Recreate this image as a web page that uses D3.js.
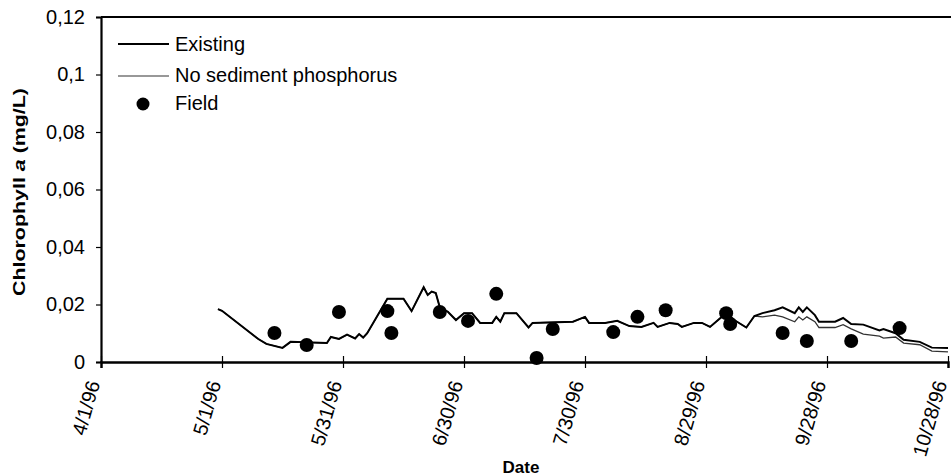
<!DOCTYPE html>
<html>
<head>
<meta charset="utf-8">
<script src="https://cdn.jsdelivr.net/npm/d3@7"></script>
<style>
  body { margin: 0; background: #fff; }
  svg { display: block; font-family: "Liberation Sans", Arial, sans-serif; }
</style>
</head>
<body>
<main></main>
<script>
// model output dates (shared by both runs)
const modelDates = [
  "1996-04-30", "1996-05-01", "1996-05-10", "1996-05-12", "1996-05-16", "1996-05-18",
  "1996-05-27", "1996-05-28", "1996-05-30", "1996-06-01", "1996-06-03", "1996-06-04",
  "1996-06-05", "1996-06-06", "1996-06-11", "1996-06-15", "1996-06-17", "1996-06-20",
  "1996-06-21", "1996-06-22", "1996-06-23", "1996-06-24", "1996-06-26", "1996-06-28",
  "1996-06-30", "1996-07-02", "1996-07-04", "1996-07-07", "1996-07-08", "1996-07-09",
  "1996-07-10", "1996-07-13", "1996-07-16", "1996-07-17", "1996-07-27", "1996-07-30",
  "1996-07-31", "1996-08-04", "1996-08-07", "1996-08-10", "1996-08-13", "1996-08-16",
  "1996-08-17", "1996-08-20", "1996-08-22", "1996-08-23", "1996-08-26", "1996-08-28",
  "1996-08-30", "1996-09-01", "1996-09-03", "1996-09-05", "1996-09-08", "1996-09-10",
  "1996-09-12", "1996-09-15", "1996-09-17", "1996-09-20", "1996-09-21", "1996-09-22",
  "1996-09-23", "1996-09-25", "1996-09-26", "1996-09-30", "1996-10-02", "1996-10-04",
  "1996-10-07", "1996-10-11", "1996-10-12", "1996-10-15", "1996-10-17", "1996-10-21",
  "1996-10-24", "1996-10-28"
];

const existing = [
  0.0184, 0.0178, 0.0080, 0.0063, 0.0049, 0.0070,
  0.0066, 0.0087, 0.0080, 0.0095, 0.0082, 0.0097,
  0.0085, 0.0100, 0.0220, 0.0220, 0.0177, 0.0260,
  0.0233, 0.0245, 0.0240, 0.0190, 0.0175, 0.0146,
  0.0170, 0.0170, 0.0136, 0.0136, 0.0157, 0.0140,
  0.0170, 0.0170, 0.0120, 0.0136, 0.0140, 0.0157,
  0.0136, 0.0136, 0.0143, 0.0125, 0.0122, 0.0136,
  0.0122, 0.0136, 0.0132, 0.0122, 0.0136, 0.0136,
  0.0122, 0.0146, 0.0170, 0.0146, 0.0120, 0.0160,
  0.0170, 0.0180, 0.0190, 0.0170, 0.0190, 0.0174,
  0.0190, 0.0163, 0.0140, 0.0140, 0.0153, 0.0132,
  0.0130, 0.0110, 0.0115, 0.0100, 0.0077, 0.0070,
  0.0050, 0.0049
];

const noSediment = [
  0.0184, 0.0178, 0.0080, 0.0063, 0.0049, 0.0070,
  0.0066, 0.0087, 0.0080, 0.0095, 0.0082, 0.0097,
  0.0085, 0.0100, 0.0220, 0.0220, 0.0177, 0.0260,
  0.0233, 0.0245, 0.0240, 0.0190, 0.0175, 0.0146,
  0.0170, 0.0170, 0.0136, 0.0136, 0.0157, 0.0140,
  0.0170, 0.0170, 0.0120, 0.0136, 0.0140, 0.0157,
  0.0136, 0.0136, 0.0143, 0.0125, 0.0122, 0.0136,
  0.0122, 0.0136, 0.0132, 0.0122, 0.0136, 0.0136,
  0.0122, 0.0146, 0.0170, 0.0146, 0.0120, 0.0160,
  0.0157, 0.0163, 0.0157, 0.0140, 0.0157, 0.0146,
  0.0157, 0.0140, 0.0120, 0.0120, 0.0130, 0.0115,
  0.0097, 0.0090, 0.0083, 0.0087, 0.0066, 0.0060,
  0.0038, 0.0035
];

// field samples
const fieldDates = [
  "1996-05-14", "1996-05-22", "1996-05-30", "1996-06-11", "1996-06-12", "1996-06-24",
  "1996-07-01", "1996-07-08", "1996-07-18", "1996-07-22", "1996-08-06", "1996-08-12",
  "1996-08-19", "1996-09-03", "1996-09-04", "1996-09-17", "1996-09-23", "1996-10-04",
  "1996-10-16"
];
const fieldValues = [
  0.0101, 0.0059, 0.0174, 0.0177, 0.0101, 0.0174,
  0.0143, 0.0237, 0.0014, 0.0115, 0.0104, 0.0157,
  0.0180, 0.0170, 0.0132, 0.0101, 0.0073, 0.0073,
  0.0118
];

const xTickDates = ["1996-04-01", "1996-05-01", "1996-05-31", "1996-06-30",
  "1996-07-30", "1996-08-29", "1996-09-28", "1996-10-28"];
const yTicks = [0, 0.02, 0.04, 0.06, 0.08, 0.1, 0.12];
const legendLabels = ["Existing", "No sediment phosphorus", "Field"];

const parse = d3.timeParse("%Y-%m-%d");
const width = 951, height = 476;
const plotLeft = 101, plotRight = 948, plotTop = 17, plotBottom = 362;

const x = d3.scaleTime()
  .domain([parse("1996-04-01"), parse("1996-10-28")])
  .range([plotLeft, plotRight]);
const y = d3.scaleLinear()
  .domain([0, 0.12])
  .range([plotBottom, plotTop]);

const svg = d3.select("main").append("svg")
  .attr("width", width)
  .attr("height", height);

// frame top line
svg.append("line")
  .attr("x1", plotLeft).attr("x2", width)
  .attr("y1", plotTop).attr("y2", plotTop)
  .attr("stroke", "#000").attr("stroke-width", 2);

// y axis
const fmtY = d => d === 0 ? "0" : String(d).replace(".", ",");
const yAxis = svg.append("g")
  .attr("transform", `translate(${plotLeft},0)`)
  .call(d3.axisLeft(y).tickValues(yTicks).tickSize(5).tickPadding(11).tickFormat(fmtY));
yAxis.select(".domain").attr("stroke-width", 2.2);
yAxis.selectAll(".tick line").attr("stroke-width", 1.2);
yAxis.selectAll("text")
  .attr("font-size", 20).attr("fill", "#000")
  .style("font-family", "Liberation Sans, Arial, sans-serif");

// x axis
const fmtX = d3.timeFormat("%-m/%-d/%y");
const xAxis = svg.append("g")
  .attr("transform", `translate(0,${plotBottom})`)
  .call(d3.axisBottom(x).tickValues(xTickDates.map(parse)).tickSize(6).tickFormat(fmtX));
xAxis.select(".domain").attr("stroke-width", 2.4);
xAxis.selectAll(".tick line").attr("y1", -6).attr("stroke-width", 1.2);
xAxis.selectAll("text")
  .attr("font-size", 20).attr("fill", "#000")
  .attr("text-anchor", "end")
  .attr("dy", "0.35em")
  .attr("transform", "translate(-8,19) rotate(-74)")
  .attr("x", 0).attr("y", 0)
  .style("font-family", "Liberation Sans, Arial, sans-serif");

// lines
const line = d3.line()
  .x(d => x(d[0]))
  .y(d => y(d[1]));
const md = modelDates.map(parse);

svg.append("path")
  .datum(md.map((d, i) => [d, noSediment[i]]))
  .attr("d", line)
  .attr("fill", "none")
  .attr("stroke", "#333")
  .attr("stroke-width", 1.3);

svg.append("path")
  .datum(md.map((d, i) => [d, existing[i]]))
  .attr("d", line)
  .attr("fill", "none")
  .attr("stroke", "#000")
  .attr("stroke-width", 2);

// field dots
svg.selectAll(".field")
  .data(fieldDates.map((d, i) => [parse(d), fieldValues[i]]))
  .enter()
  .append("circle")
  .attr("class", "field")
  .attr("cx", d => x(d[0]))
  .attr("cy", d => y(d[1]))
  .attr("r", 7)
  .attr("fill", "#000");

// legend
const lg = svg.append("g");
lg.append("line").attr("x1", 118).attr("x2", 169).attr("y1", 44).attr("y2", 44)
  .attr("stroke", "#000").attr("stroke-width", 2);
lg.append("line").attr("x1", 118).attr("x2", 169).attr("y1", 76).attr("y2", 76)
  .attr("stroke", "#333").attr("stroke-width", 1.2);
lg.append("circle").attr("cx", 143).attr("cy", 104).attr("r", 6.5).attr("fill", "#000");
lg.selectAll("text")
  .data(legendLabels)
  .enter()
  .append("text")
  .attr("x", 175)
  .attr("y", (d, i) => [51, 82, 110][i])
  .attr("font-size", 20)
  .text(d => d);

// axis titles
const yt = svg.append("text")
  .attr("transform", "translate(25,192) rotate(-90)")
  .attr("text-anchor", "middle")
  .attr("font-size", 17)
  .attr("font-weight", "bold")
  .attr("textLength", 208)
  .attr("lengthAdjust", "spacingAndGlyphs");
yt.append("tspan").text("Chlorophyll ");
yt.append("tspan").attr("font-style", "italic").text("a");
yt.append("tspan").text(" (mg/L)");

svg.append("text")
  .attr("x", 521)
  .attr("y", 473)
  .attr("text-anchor", "middle")
  .attr("font-size", 17)
  .attr("font-weight", "bold")
  .text("Date");
</script>
</body>
</html>
